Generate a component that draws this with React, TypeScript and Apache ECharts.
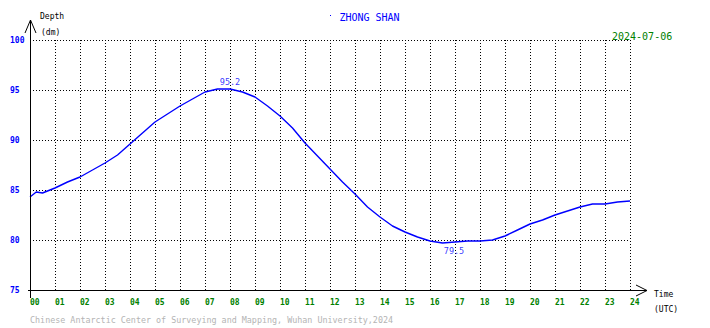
import React, { useEffect, useRef } from "react";
import * as echarts from "echarts";

// ---- data ----
const hours = [
  0, 0.25, 0.5, 1, 1.5, 2, 2.5, 3, 3.5, 4, 4.5, 5, 5.5, 6, 6.5, 7, 7.5, 8, 8.5, 9, 9.5, 10, 10.5, 11, 11.5,
  12, 12.5, 13, 13.5, 14, 14.5, 15, 15.5, 16, 16.5, 17, 17.5, 18, 18.5, 19, 19.5, 20, 20.5, 21, 21.5, 22,
  22.5, 23, 23.5, 24,
];
const depth = [
  84.3, 84.8, 84.7, 85.2, 85.8, 86.3, 87.0, 87.7, 88.5, 89.6, 90.7, 91.8, 92.6, 93.4, 94.1, 94.8, 95.1,
  95.1, 94.8, 94.3, 93.4, 92.4, 91.2, 89.7, 88.4, 87.1, 85.8, 84.6, 83.3, 82.3, 81.4, 80.8, 80.3, 79.9,
  79.7, 79.8, 79.9, 79.9, 80.0, 80.4, 81.0, 81.6, 82.0, 82.5, 82.9, 83.3, 83.6, 83.6, 83.8, 83.9,
];
const extremeHours = [8.0, 16.96];
const extremeValues = [95.2, 79.5];
const extremePositions = ["top", "bottom"];
const hourLabels = [
  "00", "01", "02", "03", "04", "05", "06", "07", "08", "09", "10", "11", "12",
  "13", "14", "15", "16", "17", "18", "19", "20", "21", "22", "23", "24",
];
const yTicks = [75, 80, 85, 90, 95, 100];
const stationName = "ZHONG SHAN";
const dateText = "2024-07-06";
const footerText = "Chinese Antarctic Center of Surveying and Mapping, Wuhan University,2024";

const MONO = "'DejaVu Sans Mono', 'Liberation Mono', monospace";

export default function App() {
  const ref = useRef<HTMLDivElement>(null);
  useEffect(() => {
    if (!ref.current) return;
    const chart = echarts.init(ref.current, null, { renderer: "svg" });
    const lineData = hours.map((h, i) => [h, depth[i]]);
    const extremes = extremeHours.map((h, i) => ({
      value: [h, extremeValues[i]],
      label: {
        show: true,
        position: extremePositions[i],
        distance: 1,
        formatter: String(extremeValues[i]),
        color: "#0000ff",
        fontFamily: MONO,
        fontSize: 8.5,
      },
    }));
    const black = "#000000";
    chart.setOption({
      animation: false,
      backgroundColor: "#ffffff",
      grid: { left: 30, right: 80, top: 40, bottom: 38, containLabel: false },
      xAxis: {
        type: "value",
        min: 0,
        max: 24,
        interval: 1,
        axisLine: { show: false },
        axisTick: { show: false },
        splitLine: { show: true, lineStyle: { color: black, type: [1, 2], width: 1 } },
        axisLabel: {
          align: "left",
          margin: 8,
          color: "#008000",
          fontFamily: MONO,
          fontSize: 8,
          fontWeight: "bold",
          formatter: (v: number) => hourLabels[Math.round(v)] ?? "",
        },
      },
      yAxis: {
        type: "value",
        min: yTicks[0],
        max: yTicks[yTicks.length - 1],
        interval: 5,
        axisLine: { show: false },
        axisTick: { show: false },
        splitLine: { show: true, lineStyle: { color: black, type: [1, 2], width: 1 } },
        axisLabel: {
          align: "left",
          margin: 20,
          color: "#0000ff",
          fontFamily: MONO,
          fontSize: 8,
          fontWeight: "bold",
          padding: [0, 0, 4, 0],
        },
      },
      series: [
        {
          type: "line",
          data: lineData,
          symbol: "none",
          lineStyle: { color: "#0000ff", width: 1.4 },
          z: 3,
        },
        {
          type: "scatter",
          data: extremes,
          symbolSize: 1,
          itemStyle: { color: "rgba(0,0,0,0)" },
          z: 4,
        },
      ],
      graphic: [
        { type: "line", shape: { x1: 30.5, y1: 298, x2: 30.5, y2: 20 }, style: { stroke: black, lineWidth: 1 }, z: 10 },
        { type: "polyline", shape: { points: [[25, 33], [30.5, 20], [36, 33]] }, style: { stroke: black, fill: null, lineWidth: 1 }, z: 10 },
        { type: "line", shape: { x1: 28, y1: 290.5, x2: 647, y2: 290.5 }, style: { stroke: black, lineWidth: 1 }, z: 10 },
        { type: "polyline", shape: { points: [[636, 285], [647, 290.5], [636, 296]] }, style: { stroke: black, fill: null, lineWidth: 1 }, z: 10 },
        { type: "text", x: 40, y: 16, style: { text: "Depth", fill: black, font: `8px ${MONO}`, textVerticalAlign: "middle" } },
        { type: "text", x: 41, y: 32, style: { text: "(dm)", fill: black, font: `8px ${MONO}`, textVerticalAlign: "middle" } },
        { type: "text", x: 654, y: 294, style: { text: "Time", fill: black, font: `8px ${MONO}`, textVerticalAlign: "middle" } },
        { type: "text", x: 654, y: 309.5, style: { text: "(UTC)", fill: black, font: `8px ${MONO}`, textVerticalAlign: "middle" } },
        { type: "rect", shape: { x: 330, y: 15, width: 1, height: 1 }, style: { fill: "#0000ff" } },
        { type: "text", x: 369.5, y: 17, style: { text: stationName, fill: "#0000ff", font: `10px ${MONO}`, textAlign: "center", textVerticalAlign: "middle" } },
        { type: "text", x: 612, y: 36.5, style: { text: dateText, fill: "#008000", font: `10px ${MONO}`, textVerticalAlign: "middle" } },
        { type: "text", x: 30, y: 320, style: { text: footerText, fill: "#b4b4b4", font: `8.4px ${MONO}`, textVerticalAlign: "middle" } },
      ],
    });
    return () => chart.dispose();
  }, []);
  return <div ref={ref} style={{ width: 710, height: 328, position: "absolute", left: 0, top: 0 }} />;
}
